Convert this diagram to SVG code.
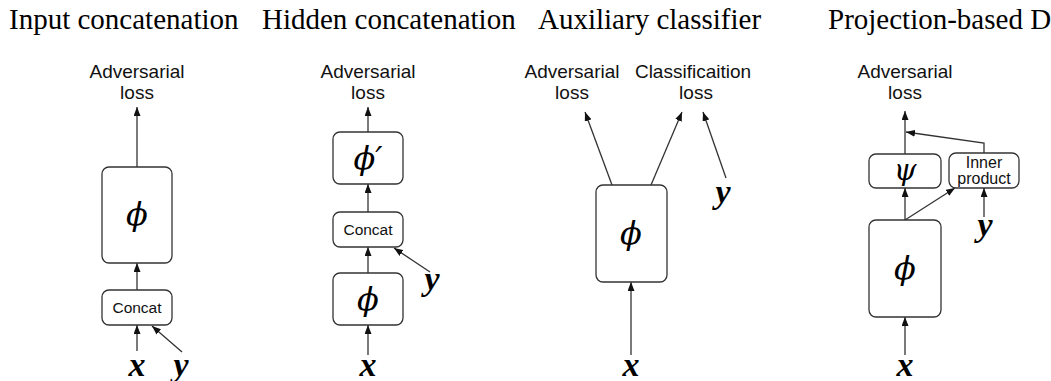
<svg xmlns="http://www.w3.org/2000/svg" width="1051" height="381" viewBox="0 0 1051 381">
  <style>
    .title { font-family: "Liberation Serif", "Times New Roman", serif; font-size: 29px; fill: #000; }
    .lbl { font-family: "Liberation Sans", Arial, sans-serif; font-size: 19px; fill: #111; text-anchor: middle; }
    .small { font-family: "Liberation Sans", Arial, sans-serif; font-size: 15.5px; fill: #111; text-anchor: middle; }
    .tiny { font-family: "Liberation Sans", Arial, sans-serif; font-size: 16px; fill: #111; text-anchor: middle; }
    .box { fill: #fff; stroke: #333; stroke-width: 1.3; }
    .greek { font-family: "DejaVu Serif", "Liberation Serif", serif; font-style: italic; font-size: 32px; fill: #000; text-anchor: middle; }
    .psi { font-family: "DejaVu Serif", "Liberation Serif", serif; font-style: italic; font-size: 29px; fill: #000; text-anchor: middle; }
    .var { font-family: "Liberation Serif", "Times New Roman", serif; font-style: italic; font-weight: bold; font-size: 34px; fill: #000; text-anchor: middle; }
    .edge { fill: none; stroke: #333; stroke-width: 1.3; marker-end: url(#arrow); }
  </style>
  <defs>
    <marker id="arrow" markerWidth="9" markerHeight="7" refX="9" refY="3.5" orient="auto" markerUnits="userSpaceOnUse">
      <path d="M0,0 L9,3.5 L0,7 z" fill="#111"/>
    </marker>
  </defs>

  <!-- panel titles -->
  <g id="titles">
    <text class="title" x="9" y="29">Input concatenation</text>
    <text class="title" x="262" y="29">Hidden concatenation</text>
    <text class="title" x="538" y="29">Auxiliary classifier</text>
    <text class="title" x="828" y="29">Projection-based D</text>
  </g>

  <!-- connectors -->
  <g id="connectors">
    <!-- input concatenation -->
    <line class="edge" x1="137" y1="167" x2="137" y2="107"/>
    <line class="edge" x1="137" y1="290" x2="137" y2="263"/>
    <line class="edge" x1="137" y1="351" x2="137" y2="325"/>
    <line class="edge" x1="182" y1="352" x2="152" y2="326"/>
    <!-- hidden concatenation -->
    <line class="edge" x1="368" y1="132" x2="368" y2="107"/>
    <line class="edge" x1="368" y1="212" x2="368" y2="184"/>
    <line class="edge" x1="368" y1="273" x2="368" y2="247"/>
    <line class="edge" x1="368" y1="355" x2="368" y2="325"/>
    <line class="edge" x1="430" y1="272" x2="394" y2="248"/>
    <!-- auxiliary classifier -->
    <line class="edge" x1="612" y1="185" x2="585" y2="112"/>
    <line class="edge" x1="651" y1="185" x2="682" y2="112"/>
    <line class="edge" x1="726" y1="178" x2="703" y2="112"/>
    <line class="edge" x1="631" y1="355" x2="631" y2="282"/>
    <!-- projection-based D -->
    <line class="edge" x1="905" y1="154" x2="905" y2="111"/>
    <polyline class="edge" points="984,153 984,143 906,132"/>
    <line class="edge" x1="905" y1="220" x2="905" y2="188"/>
    <line class="edge" x1="905" y1="220" x2="955" y2="188"/>
    <line class="edge" x1="984" y1="217" x2="984" y2="188"/>
    <line class="edge" x1="905" y1="355" x2="905" y2="317"/>
  </g>

  <!-- input concatenation nodes -->
  <g id="ic-loss">
    <text class="lbl" x="137" y="78">Adversarial</text>
    <text class="lbl" x="137" y="99">loss</text>
  </g>
  <g id="ic-phi">
    <rect class="box" x="102" y="167" width="70" height="96" rx="7"/>
    <text class="greek" x="137" y="225">ϕ</text>
  </g>
  <g id="ic-concat">
    <rect class="box" x="102" y="290" width="70" height="35" rx="7"/>
    <text class="small" x="137" y="313">Concat</text>
  </g>
  <g id="ic-x"><text class="var" x="137" y="376">x</text></g>
  <g id="ic-y"><text class="var" x="181" y="376">y</text></g>

  <!-- hidden concatenation nodes -->
  <g id="hc-loss">
    <text class="lbl" x="368" y="78">Adversarial</text>
    <text class="lbl" x="368" y="99">loss</text>
  </g>
  <g id="hc-phi2">
    <rect class="box" x="333" y="132" width="70" height="52" rx="7"/>
    <text class="greek" x="368" y="169">ϕ′</text>
  </g>
  <g id="hc-concat">
    <rect class="box" x="333" y="212" width="70" height="35" rx="7"/>
    <text class="small" x="368" y="235">Concat</text>
  </g>
  <g id="hc-phi">
    <rect class="box" x="333" y="273" width="70" height="52" rx="7"/>
    <text class="greek" x="368" y="310">ϕ</text>
  </g>
  <g id="hc-x"><text class="var" x="368" y="376">x</text></g>
  <g id="hc-y"><text class="var" x="432" y="290">y</text></g>

  <!-- auxiliary classifier nodes -->
  <g id="ac-adv">
    <text class="lbl" x="572" y="78">Adversarial</text>
    <text class="lbl" x="572" y="99">loss</text>
  </g>
  <g id="ac-cls">
    <text class="lbl" x="693" y="78">Classificaition</text>
    <text class="lbl" x="696" y="99">loss</text>
  </g>
  <g id="ac-phi">
    <rect class="box" x="596" y="185" width="71" height="97" rx="7"/>
    <text class="greek" x="631" y="244">ϕ</text>
  </g>
  <g id="ac-x"><text class="var" x="631" y="376">x</text></g>
  <g id="ac-y"><text class="var" x="723" y="203">y</text></g>

  <!-- projection-based D nodes -->
  <g id="pd-loss">
    <text class="lbl" x="905" y="78">Adversarial</text>
    <text class="lbl" x="905" y="99">loss</text>
  </g>
  <g id="pd-psi">
    <rect class="box" x="869" y="154" width="72" height="34" rx="7"/>
    <text class="psi" x="905" y="180">ψ</text>
  </g>
  <g id="pd-inner">
    <rect class="box" x="949" y="153" width="70" height="35" rx="7"/>
    <text class="tiny" x="984" y="168">Inner</text>
    <text class="tiny" x="984" y="184">product</text>
  </g>
  <g id="pd-phi">
    <rect class="box" x="869" y="220" width="72" height="97" rx="7"/>
    <text class="greek" x="905" y="279">ϕ</text>
  </g>
  <g id="pd-x"><text class="var" x="905" y="376">x</text></g>
  <g id="pd-y"><text class="var" x="985" y="236">y</text></g>
</svg>
